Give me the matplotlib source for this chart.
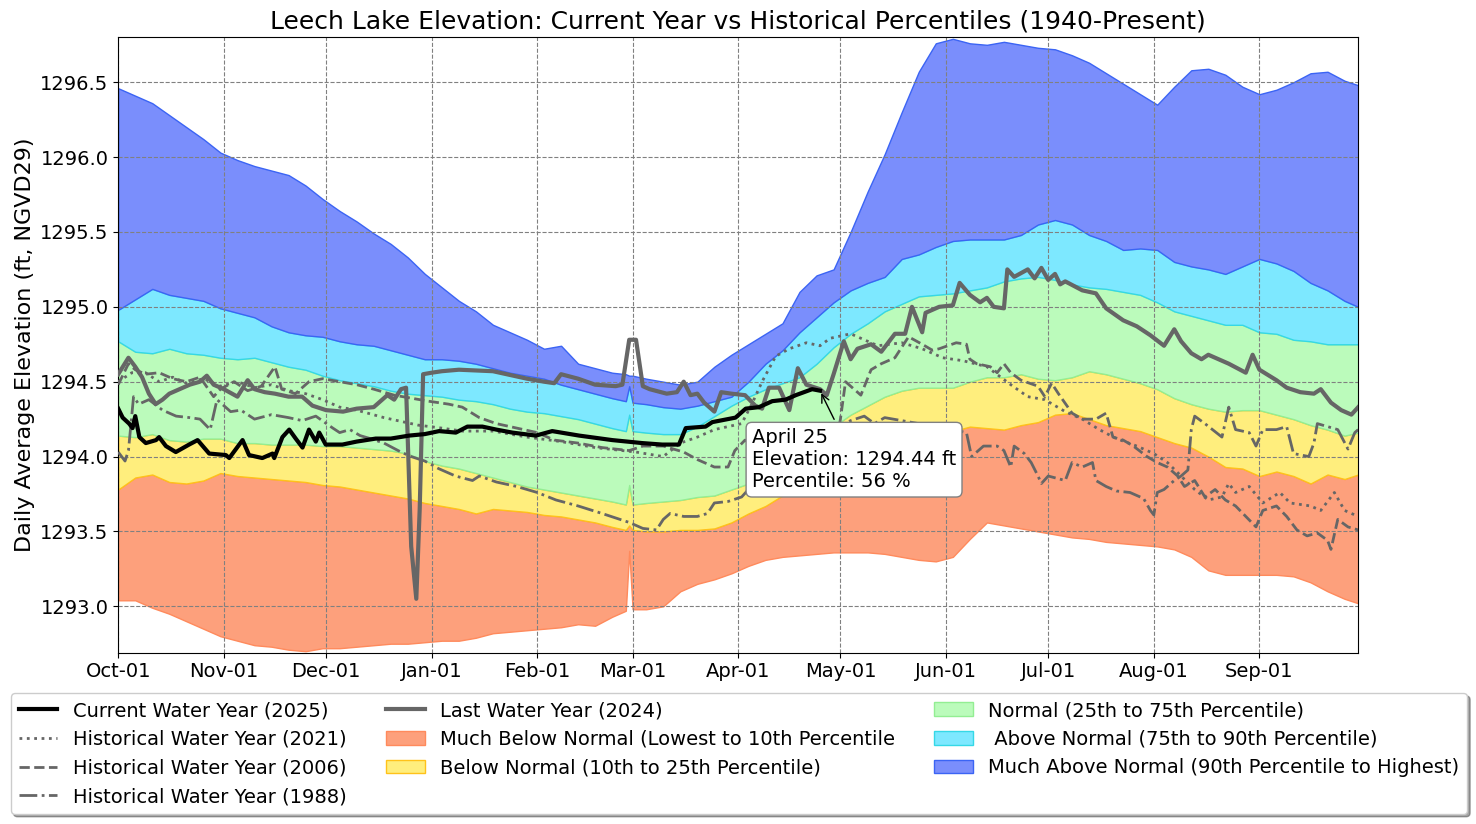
import numpy as np
import matplotlib
matplotlib.use('Agg')
import matplotlib.pyplot as plt
import matplotlib.dates as mdates
from matplotlib.ticker import FormatStrFormatter
from datetime import datetime

# ---------------- data (day offsets from Oct 01 of the water year) ----------------
BAND_DAYS = [0, 5, 10, 15, 20, 25, 30, 35, 40, 45, 50, 55, 60, 65, 70, 75, 80, 85, 90, 95,
             100, 105, 110, 115, 120, 125, 130, 135, 140, 145, 149, 150, 151, 155, 160, 165,
             170, 175, 180, 185, 190, 195, 200, 205, 210, 215, 220, 225, 230, 235, 240, 245,
             250, 255, 260, 265, 270, 275, 280, 285, 290, 295, 300, 305, 310, 315, 320, 325,
             330, 335, 340, 345, 350, 355, 360, 364]

P_MAX = [1296.46, 1296.41, 1296.36, 1296.28, 1296.20, 1296.12, 1296.03, 1295.98, 1295.94, 1295.91,
         1295.88, 1295.81, 1295.72, 1295.64, 1295.57, 1295.49, 1295.42, 1295.33, 1295.22, 1295.13,
         1295.04, 1294.97, 1294.88, 1294.83, 1294.78, 1294.72, 1294.74, 1294.62, 1294.59, 1294.56,
         1294.55, 1294.54, 1294.54, 1294.52, 1294.50, 1294.48, 1294.50, 1294.60, 1294.68, 1294.75,
         1294.82, 1294.89, 1295.10, 1295.21, 1295.25, 1295.50, 1295.77, 1296.02, 1296.30, 1296.57,
         1296.76, 1296.79, 1296.76, 1296.75, 1296.77, 1296.75, 1296.73, 1296.72, 1296.68, 1296.63,
         1296.56, 1296.49, 1296.42, 1296.35, 1296.47, 1296.58, 1296.59, 1296.55, 1296.47, 1296.42,
         1296.45, 1296.50, 1296.56, 1296.57, 1296.51, 1296.48]

P90 = [1294.98, 1295.05, 1295.12, 1295.08, 1295.06, 1295.04, 1294.99, 1294.96, 1294.93, 1294.87,
       1294.83, 1294.81, 1294.80, 1294.77, 1294.75, 1294.74, 1294.71, 1294.68, 1294.65, 1294.65,
       1294.64, 1294.62, 1294.59, 1294.56, 1294.54, 1294.52, 1294.48, 1294.45, 1294.42, 1294.39,
       1294.37, 1294.47, 1294.36, 1294.35, 1294.33, 1294.32, 1294.34, 1294.37, 1294.40, 1294.50,
       1294.62, 1294.71, 1294.83, 1294.93, 1295.03, 1295.11, 1295.16, 1295.20, 1295.32, 1295.35,
       1295.40, 1295.44, 1295.45, 1295.45, 1295.45, 1295.48, 1295.55, 1295.58, 1295.55, 1295.48,
       1295.44, 1295.38, 1295.39, 1295.38, 1295.30, 1295.27, 1295.25, 1295.22, 1295.27, 1295.32,
       1295.29, 1295.24, 1295.16, 1295.11, 1295.04, 1295.00]

P75 = [1294.77, 1294.70, 1294.69, 1294.72, 1294.69, 1294.68, 1294.66, 1294.65, 1294.66, 1294.63,
       1294.60, 1294.58, 1294.54, 1294.51, 1294.49, 1294.47, 1294.44, 1294.42, 1294.41, 1294.40,
       1294.38, 1294.37, 1294.35, 1294.32, 1294.30, 1294.29, 1294.27, 1294.25, 1294.22, 1294.19,
       1294.17, 1294.28, 1294.17, 1294.16, 1294.15, 1294.15, 1294.20, 1294.27, 1294.34, 1294.40,
       1294.45, 1294.49, 1294.53, 1294.62, 1294.73, 1294.82, 1294.89, 1294.97, 1295.02, 1295.07,
       1295.08, 1295.09, 1295.11, 1295.13, 1295.17, 1295.19, 1295.20, 1295.18, 1295.15, 1295.13,
       1295.12, 1295.10, 1295.08, 1295.03, 1294.97, 1294.94, 1294.91, 1294.88, 1294.88, 1294.83,
       1294.82, 1294.78, 1294.77, 1294.75, 1294.75, 1294.75]

P25 = [1294.14, 1294.13, 1294.15, 1294.11, 1294.10, 1294.12, 1294.12, 1294.09, 1294.09, 1294.08,
       1294.08, 1294.08, 1294.07, 1294.07, 1294.06, 1294.05, 1294.04, 1294.02, 1293.97, 1293.94,
       1293.92, 1293.89, 1293.86, 1293.83, 1293.80, 1293.78, 1293.76, 1293.74, 1293.72, 1293.70,
       1293.68, 1293.81, 1293.68, 1293.69, 1293.70, 1293.71, 1293.73, 1293.74, 1293.78, 1293.82,
       1293.90, 1293.97, 1294.03, 1294.12, 1294.20, 1294.28, 1294.34, 1294.40, 1294.44, 1294.46,
       1294.46, 1294.46, 1294.50, 1294.53, 1294.53, 1294.55, 1294.52, 1294.51, 1294.53, 1294.57,
       1294.55, 1294.52, 1294.49, 1294.45, 1294.39, 1294.35, 1294.32, 1294.30, 1294.31, 1294.31,
       1294.28, 1294.25, 1294.21, 1294.18, 1294.14, 1294.16]

P10 = [1293.78, 1293.86, 1293.88, 1293.83, 1293.82, 1293.84, 1293.89, 1293.87, 1293.86, 1293.85,
       1293.84, 1293.83, 1293.81, 1293.80, 1293.78, 1293.76, 1293.74, 1293.72, 1293.69, 1293.67,
       1293.65, 1293.62, 1293.65, 1293.64, 1293.63, 1293.61, 1293.60, 1293.58, 1293.56, 1293.53,
       1293.51, 1293.54, 1293.51, 1293.50, 1293.50, 1293.51, 1293.51, 1293.52, 1293.56, 1293.62,
       1293.67, 1293.74, 1293.80, 1293.88, 1293.95, 1294.02, 1294.06, 1294.09, 1294.12, 1294.14,
       1294.15, 1294.17, 1294.20, 1294.19, 1294.18, 1294.21, 1294.23, 1294.28, 1294.29, 1294.25,
       1294.21, 1294.19, 1294.17, 1294.13, 1294.09, 1294.06, 1294.00, 1293.93, 1293.92, 1293.87,
       1293.90, 1293.87, 1293.82, 1293.88, 1293.85, 1293.88]

P_MIN = [1293.04, 1293.04, 1292.99, 1292.95, 1292.90, 1292.85, 1292.80, 1292.77, 1292.74, 1292.73,
         1292.71, 1292.70, 1292.72, 1292.72, 1292.73, 1292.74, 1292.75, 1292.75, 1292.76, 1292.77,
         1292.77, 1292.79, 1292.82, 1292.83, 1292.84, 1292.85, 1292.86, 1292.88, 1292.87, 1292.93,
         1292.97, 1293.37, 1292.98, 1292.98, 1293.00, 1293.10, 1293.15, 1293.18, 1293.22, 1293.27,
         1293.31, 1293.33, 1293.34, 1293.35, 1293.36, 1293.36, 1293.36, 1293.35, 1293.33, 1293.31,
         1293.30, 1293.33, 1293.45, 1293.56, 1293.54, 1293.52, 1293.50, 1293.48, 1293.46, 1293.45,
         1293.43, 1293.42, 1293.41, 1293.40, 1293.38, 1293.33, 1293.24, 1293.21, 1293.21, 1293.21,
         1293.21, 1293.20, 1293.16, 1293.10, 1293.05, 1293.02]

CUR_DAYS = [0, 1.3, 3.2, 4.2, 5, 6.2, 8.1, 11.1, 12, 14, 16.9, 20.8, 23.3, 26.7, 31.6, 32.6,
            36.5, 38.4, 42.3, 45.3, 45.8, 48.2, 50.2, 52.1, 54.1, 56, 58, 59, 60.9, 65.8, 70,
            75.6, 80, 85.4, 90, 94.2, 99.1, 102.5, 106.9, 111, 115.7, 122.6, 127.4, 135.3, 145,
            153.8, 159.7, 164.6, 166.6, 172.4, 174.4, 181.2, 184.2, 188.1, 192, 195.9, 198.9,
            203.7, 206]
CUR_VALS = [1294.32, 1294.26, 1294.22, 1294.19, 1294.27, 1294.13, 1294.09, 1294.11, 1294.13,
            1294.07, 1294.03, 1294.08, 1294.11, 1294.02, 1294.01, 1293.99, 1294.11, 1294.01,
            1293.99, 1294.02, 1293.99, 1294.13, 1294.18, 1294.12, 1294.06, 1294.18, 1294.10,
            1294.16, 1294.08, 1294.08, 1294.10, 1294.12, 1294.12, 1294.14, 1294.15, 1294.17,
            1294.16, 1294.20, 1294.20, 1294.18, 1294.16, 1294.14, 1294.17, 1294.14, 1294.11,
            1294.09, 1294.08, 1294.08, 1294.19, 1294.20, 1294.23, 1294.26, 1294.32, 1294.33,
            1294.37, 1294.38, 1294.41, 1294.45, 1294.44]

Y2024_DAYS = [0, 3, 5, 7, 9, 11, 13, 15, 18, 21, 24, 26, 28, 31, 35, 38, 40, 43, 46, 50, 54, 57,
              61, 66, 70, 75, 79, 81, 83, 84.5, 86, 87.5, 88.5, 89.5, 92, 95, 100, 110, 120, 125,
              128, 130, 135, 140, 146, 148, 150, 152, 154, 156, 161, 164, 166, 168, 170, 172,
              175, 177, 180, 184, 187, 189, 191, 194, 197, 199.5, 202, 206, 208, 210, 213, 215,
              217, 221, 224, 228, 231, 233, 236, 237, 241, 245, 247, 250, 253, 255, 257, 260,
              261, 263, 267, 269, 271, 273, 275, 276.5, 278, 283, 287, 290, 295, 299, 303, 307,
              310, 312, 315, 318, 320, 326, 331, 333, 335, 340, 343, 347, 351, 353, 356, 359,
              362, 364]
Y2024_VALS = [1294.55, 1294.66, 1294.60, 1294.53, 1294.42, 1294.35, 1294.38, 1294.42, 1294.45,
              1294.48, 1294.50, 1294.54, 1294.48, 1294.45, 1294.40, 1294.51, 1294.45, 1294.43,
              1294.42, 1294.40, 1294.40, 1294.34, 1294.31, 1294.30, 1294.32, 1294.33, 1294.41,
              1294.38, 1294.45, 1294.46, 1293.40, 1293.05, 1293.65, 1294.55, 1294.56, 1294.57,
              1294.58, 1294.57, 1294.52, 1294.50, 1294.49, 1294.55, 1294.52, 1294.48, 1294.47,
              1294.48, 1294.78, 1294.78, 1294.47, 1294.45, 1294.42, 1294.43, 1294.50, 1294.41,
              1294.42, 1294.36, 1294.30, 1294.43, 1294.42, 1294.41, 1294.34, 1294.32, 1294.46,
              1294.46, 1294.31, 1294.59, 1294.48, 1294.45, 1294.41, 1294.55, 1294.77, 1294.65,
              1294.72, 1294.75, 1294.70, 1294.82, 1294.82, 1295.00, 1294.83, 1294.96, 1295.00,
              1295.01, 1295.16, 1295.08, 1295.03, 1295.06, 1295.00, 1294.99, 1295.25, 1295.20,
              1295.25, 1295.19, 1295.26, 1295.18, 1295.22, 1295.15, 1295.17, 1295.11, 1295.09,
              1294.99, 1294.91, 1294.87, 1294.81, 1294.74, 1294.85, 1294.77, 1294.69, 1294.65,
              1294.68, 1294.62, 1294.56, 1294.68, 1294.58, 1294.51, 1294.46, 1294.43, 1294.42,
              1294.45, 1294.36, 1294.31, 1294.28, 1294.33]

Y2021_DAYS = [0, 4, 8, 12, 16, 20, 25, 30, 35, 40, 45, 50, 55, 60, 65, 70, 78, 88, 95, 101, 110,
              120, 130, 140, 152, 160, 165, 170, 175, 179, 183, 186, 189, 193, 197, 202, 206,
              209, 215, 218, 223, 230, 236, 242, 248, 255, 262, 267, 272, 278, 283, 288, 293,
              299, 304, 308, 312, 316, 320, 324, 326, 328, 332, 336, 341, 344, 350, 353, 357,
              360, 364]
Y2021_VALS = [1294.50, 1294.56, 1294.56, 1294.50, 1294.53, 1294.49, 1294.52, 1294.47, 1294.50,
              1294.46, 1294.48, 1294.44, 1294.42, 1294.38, 1294.33, 1294.31, 1294.26, 1294.21,
              1294.19, 1294.17, 1294.17, 1294.13, 1294.10, 1294.06, 1294.03, 1294.00, 1294.09,
              1294.13, 1294.18, 1294.20, 1294.22, 1294.35, 1294.50, 1294.67, 1294.72, 1294.76,
              1294.74, 1294.79, 1294.82, 1294.79, 1294.74, 1294.76, 1294.72, 1294.66, 1294.64,
              1294.60, 1294.48, 1294.40, 1294.38, 1294.30, 1294.25, 1294.18, 1294.12, 1294.07,
              1294.02, 1293.96, 1293.87, 1293.78, 1293.71, 1293.73, 1293.82, 1293.76, 1293.80,
              1293.69, 1293.76, 1293.69, 1293.67, 1293.64, 1293.76, 1293.64, 1293.60]

Y2006_DAYS = [0, 3, 5, 8, 12, 16, 20, 24, 28, 30, 34, 38, 42, 46, 48, 52, 56, 60, 65, 70, 75, 81,
              86, 91, 97, 101, 106, 111, 117, 123, 128, 135, 142, 150, 154, 160, 166, 170, 175,
              179, 181, 184, 188, 195, 200, 205, 210, 212, 213.5, 216, 218, 221, 224, 228, 230,
              232, 236, 239, 241, 246, 249, 250, 252, 256, 258, 260, 262, 265, 270, 272, 274,
              276, 280, 283, 287, 290, 292, 295, 298, 302, 305, 308, 311, 313, 316, 319, 322,
              325, 328, 331, 334, 336, 340, 343, 346, 349, 352, 355, 356, 358, 361, 364]
Y2006_VALS = [1294.48, 1294.62, 1294.58, 1294.55, 1294.56, 1294.52, 1294.50, 1294.53, 1294.40,
              1294.45, 1294.50, 1294.44, 1294.47, 1294.60, 1294.45, 1294.42, 1294.50, 1294.52,
              1294.50, 1294.48, 1294.45, 1294.41, 1294.39, 1294.37, 1294.35, 1294.33, 1294.26,
              1294.22, 1294.19, 1294.16, 1294.11, 1294.09, 1294.06, 1294.04, 1294.07, 1294.07,
              1294.03, 1293.98, 1293.93, 1293.93, 1294.04, 1294.11, 1294.05, 1293.95, 1293.90,
              1293.85, 1294.00, 1294.25, 1294.50, 1294.45, 1294.41, 1294.58, 1294.62, 1294.66,
              1294.73, 1294.80, 1294.75, 1294.71, 1294.72, 1294.76, 1294.75, 1294.65, 1294.62,
              1294.60, 1294.56, 1294.62, 1294.56, 1294.51, 1294.47, 1294.40, 1294.49, 1294.42,
              1294.29, 1294.25, 1294.25, 1294.29, 1294.13, 1294.11, 1294.07, 1294.00, 1293.96,
              1293.93, 1293.87, 1293.80, 1293.84, 1293.73, 1293.78, 1293.71, 1293.67, 1293.60,
              1293.53, 1293.64, 1293.67, 1293.60, 1293.51, 1293.47, 1293.49, 1293.44, 1293.38,
              1293.58, 1293.53, 1293.51]

Y1988_DAYS = [0, 2, 3, 4.5, 6, 9, 13, 17, 21, 24, 27, 29, 33, 36, 40, 45, 50, 54, 58, 63, 65, 68,
              71, 74, 78, 83, 86, 90, 94, 99, 104, 106, 111, 117, 123, 128.5, 135, 142, 150, 154,
              158, 160, 162, 166, 170, 173, 175, 179, 183, 185, 190, 195, 200, 205, 210, 215,
              219, 222, 225, 230, 235, 240, 245, 249, 250.5, 254, 258, 260, 262, 263, 266, 268,
              270, 271, 273, 278, 280, 283, 286, 287, 290, 293, 297, 301, 303, 304, 305, 307,
              310, 312, 314, 315, 316, 319, 324, 326, 328, 332, 334, 336, 340, 343, 345, 349.5,
              351, 352, 355, 358, 361, 363, 364]
Y1988_VALS = [1294.03, 1293.97, 1294.04, 1294.40, 1294.35, 1294.38, 1294.31, 1294.27, 1294.26,
              1294.25, 1294.18, 1294.38, 1294.30, 1294.31, 1294.25, 1294.28, 1294.26, 1294.24,
              1294.27, 1294.19, 1294.16, 1294.18, 1294.14, 1294.12, 1294.09, 1294.03, 1294.00,
              1293.97, 1293.92, 1293.87, 1293.84, 1293.87, 1293.83, 1293.80, 1293.76, 1293.71,
              1293.67, 1293.62, 1293.56, 1293.52, 1293.51, 1293.58, 1293.62, 1293.60, 1293.60,
              1293.62, 1293.69, 1293.70, 1293.73, 1293.78, 1293.85, 1293.95, 1294.05, 1294.12,
              1294.18, 1294.24, 1294.27, 1294.22, 1294.26, 1294.24, 1294.22, 1294.20, 1294.18,
              1294.16, 1294.00, 1294.07, 1294.07, 1294.04, 1293.93, 1294.07, 1294.02, 1293.96,
              1293.87, 1293.82, 1293.87, 1293.84, 1293.96, 1293.93, 1293.96, 1293.84, 1293.80,
              1293.77, 1293.76, 1293.72, 1293.64, 1293.61, 1293.76, 1293.78, 1293.84, 1293.87,
              1293.91, 1294.18, 1294.27, 1294.22, 1294.13, 1294.33, 1294.18, 1294.16, 1294.07,
              1294.18, 1294.18, 1294.20, 1294.02, 1294.00, 1294.09, 1294.22, 1294.20, 1294.18,
              1294.05, 1294.16, 1294.18]

ANNOT_DAY = 206
ANNOT_TEXT = "April 25\nElevation: 1294.44 ft\nPercentile: 56 %"
ANNOT_VALUE = 1294.44

BAND_LABELS = ["Much Below Normal (Lowest to 10th Percentile",
               "Below Normal (10th to 25th Percentile)",
               "Normal (25th to 75th Percentile)",
               " Above Normal (75th to 90th Percentile)",
               "Much Above Normal (90th Percentile to Highest)"]
LINE_LABELS = ["Current Water Year (2025)", "Last Water Year (2024)",
               "Historical Water Year (2021)", "Historical Water Year (2006)",
               "Historical Water Year (1988)"]

# ---------------- plotting ----------------
BASE = mdates.date2num(datetime(2024, 10, 1))


def X(days):
    return BASE + np.asarray(days, dtype=float)


fig = plt.figure(figsize=(14.76, 8.24), dpi=100)
ax = fig.add_axes([0.0801, 0.2079, 0.8401, 0.7468])

bx = X(BAND_DAYS)
band_styles = [
    (P_MIN, P10, '#FDA07C', '#FF8A5C'),
    (P10, P25, '#FFEE7D', '#FFC21A'),
    (P25, P75, '#BBFBBB', '#93EE93'),
    (P75, P90, '#7DE8FF', '#35D8E6'),
    (P90, P_MAX, '#7A8EFC', '#3B64F4'),
]
band_handles = []
for (lo, hi, fc, ec), lab in zip(band_styles, BAND_LABELS):
    h = ax.fill_between(bx, lo, hi, facecolor=fc, edgecolor=ec, linewidth=1.0,
                        label=lab, zorder=1)
    band_handles.append(h)

gray = '#666666'
h2021, = ax.plot(X(Y2021_DAYS), Y2021_VALS, color=gray, ls=':', lw=2, label=LINE_LABELS[2], zorder=3)
h2006, = ax.plot(X(Y2006_DAYS), Y2006_VALS, color=gray, ls='--', lw=2, label=LINE_LABELS[3], zorder=3)
h1988, = ax.plot(X(Y1988_DAYS), Y1988_VALS, color=gray, ls='-.', lw=2, label=LINE_LABELS[4], zorder=3)
h2024, = ax.plot(X(Y2024_DAYS), Y2024_VALS, color=gray, lw=3, label=LINE_LABELS[1], zorder=4)
hcur, = ax.plot(X(CUR_DAYS), CUR_VALS, color='black', lw=3, label=LINE_LABELS[0], zorder=5)

ax.annotate(ANNOT_TEXT, xy=(X(ANNOT_DAY), ANNOT_VALUE), xytext=(-49, -27),
            textcoords='offset points', ha='left', va='top', fontsize=14,
            bbox=dict(boxstyle='round,pad=0.3', fc='white', ec='gray', lw=1),
            arrowprops=dict(arrowstyle='->', color='black', lw=1), zorder=10)

ax.set_xlim(X(0), X(364))
ax.set_ylim(1292.69, 1296.80)
ax.set_yticks(np.arange(1293.0, 1296.51, 0.5))
ax.yaxis.set_major_formatter(FormatStrFormatter('%.1f'))
ax.xaxis.set_major_locator(mdates.MonthLocator(bymonthday=1))
ax.xaxis.set_major_formatter(mdates.DateFormatter('%b-%d'))
ax.tick_params(labelsize=14)
ax.grid(True, ls='--', color='gray', lw=0.8)

ax.set_title("Leech Lake Elevation: Current Year vs Historical Percentiles (1940-Present)", fontsize=18)
ax.set_ylabel("Daily Average Elevation (ft, NGVD29)", fontsize=16)

handles = [hcur, h2021, h2006, h1988, h2024] + band_handles
ax.legend(handles=handles, loc='upper center', bbox_to_anchor=(0.5007, 0.1705),
          bbox_transform=fig.transFigure, ncol=3, fontsize=14, fancybox=True, shadow=True)

fig.savefig('out.png', dpi=100)
